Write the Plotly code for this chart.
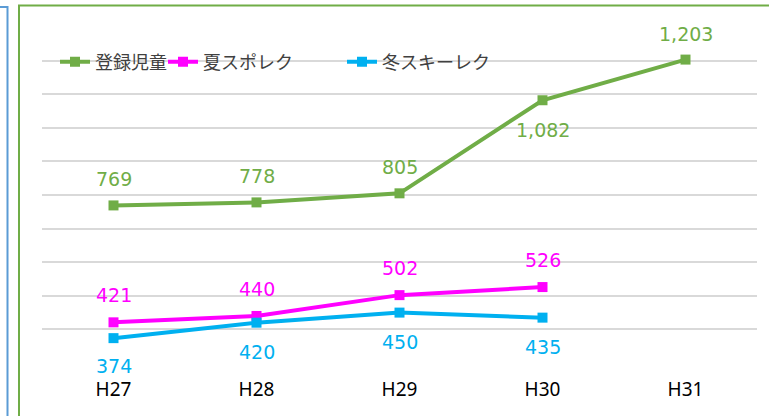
import plotly.graph_objects as go

categories = ["H27", "H28", "H29", "H30", "H31"]
series_names = ["登録児童", "夏スポレク", "冬スキーレク"]
registered = [769, 778, 805, 1082, 1203]
summer = [421, 440, 502, 526, None]
winter = [374, 420, 450, 435, None]
colors = ["#70ad47", "#ff00ff", "#00b0f0"]
label_shift = [[26, 26, 26, -30, 26], [27, 27, 27, 27, 27], [-28, -29, -29, -29, -29]]

W, H = 769, 416
L, R, T, B = 42, 12, 27, 53
pw, ph = W - L - R, H - T - B

def px_x(p):
    return (p - L) / pw

def px_y(p):
    return (H - B - p) / ph

legend_names = ["legend", "legend2", "legend3"]
legend_x = [55, 163, 342]

fig = go.Figure()
annotations = []
for name, vals, col, shifts, lg in zip(series_names, [registered, summer, winter], colors, label_shift, legend_names):
    fig.add_trace(go.Scatter(
        x=categories, y=vals, name=name, mode="lines+markers",
        line=dict(color=col, width=4), marker=dict(symbol="square", size=10, color=col),
        connectgaps=False, legend=lg,
    ))
    for c, v, s in zip(categories, vals, shifts):
        if v is None:
            continue
        annotations.append(dict(
            x=c, y=v, xref="x", yref="y", text=f"{v:,}", showarrow=False,
            yshift=s, font=dict(family="DejaVu Sans", size=19, color=col),
        ))

shapes = [
    dict(type="rect", xref="paper", yref="paper", x0=px_x(19), x1=1.2, y0=-0.3, y1=px_y(5.5),
         line=dict(color="#70ad47", width=2), fillcolor="rgba(0,0,0,0)", layer="below"),
    dict(type="rect", xref="paper", yref="paper", x0=-0.3, x1=px_x(7.5), y0=-0.3, y1=px_y(7),
         line=dict(color="#5b9bd5", width=2), fillcolor="rgba(0,0,0,0)", layer="below"),
]

legend_common = dict(orientation="h", y=px_y(62), xanchor="left", yanchor="middle",
                     font=dict(family="Noto Sans CJK JP", size=18, color="#404040"),
                     bgcolor="rgba(0,0,0,0)", itemwidth=30)

fig.update_layout(
    width=W, height=H, margin=dict(l=L, r=R, t=T, b=B),
    paper_bgcolor="white", plot_bgcolor="white",
    annotations=annotations, shapes=shapes,
    legend=dict(x=px_x(legend_x[0]), **legend_common),
    legend2=dict(x=px_x(legend_x[1]), **legend_common),
    legend3=dict(x=px_x(legend_x[2]), **legend_common),
    xaxis=dict(range=[-0.5, 4.5], showgrid=False, showline=False, zeroline=False, ticks="",
               tickfont=dict(family="Noto Sans", size=19, color="#000000"), ticklabelstandoff=13),
    yaxis=dict(range=[300, 1300], dtick=100, showticklabels=False, showgrid=True,
               gridcolor="#d9d9d9", gridwidth=2, zeroline=False, showline=False),
    showlegend=True,
)
fig.write_html("out.html", post_script="document.body.style.margin='0';",
               config={"displayModeBar": False})
